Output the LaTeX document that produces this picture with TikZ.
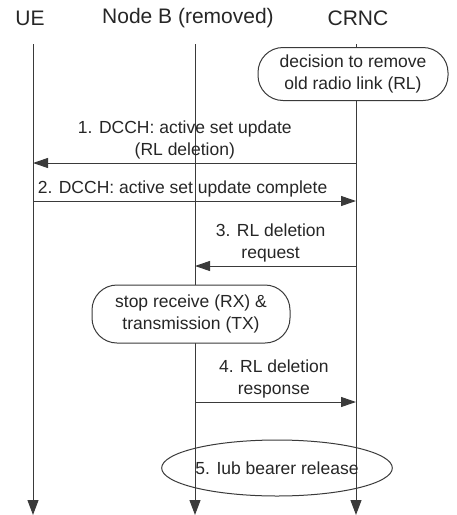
\documentclass[tikz,border=0pt]{standalone}
\usepackage{fontspec}
\setmainfont{Liberation Sans}
\usetikzlibrary{arrows.meta, shapes.geometric}
\definecolor{linegray}{HTML}{3A3A3A}
\tikzset{
    head/.style={font=\fontsize{21}{24}\selectfont, text=black!85, inner sep=0pt},
    box/.style={rectangle, draw=linegray, fill=white, rounded corners=25pt, line width=1pt, align=center, font=\fontsize{17.5}{22}\selectfont, text=black!85, inner sep=0pt},
    oval/.style={ellipse, draw=linegray, line width=1pt, inner sep=0pt, font=\fontsize{17.5}{22}\selectfont, text=black!85},
    life/.style={draw=linegray, line width=1pt, -{Triangle[length=15pt,width=11pt]}},
    msg/.style={draw=linegray, line width=1pt, -{Triangle[length=15pt,width=10pt]}},
    lbl/.style={align=center, font=\fontsize{17.5}{22}\selectfont, text=black!85, inner sep=3pt}
}

\begin{document}
\begin{tikzpicture}[x=1pt, y=-1pt]
    \useasboundingbox (0,0) rectangle (456,515);
    % entities
    \node[head] (ue) at (30,18) {UE};
    \node[head] (nodeb) at (188,18) {Node B (removed)};
    \node[head] (crnc) at (358,18) {CRNC};

    % lifelines
    \coordinate (ueTop) at (33,44);
    \coordinate (ueEnd) at (33,515);
    \coordinate (nbTop) at (195,44);
    \coordinate (nbEnd) at (195,515);
    \coordinate (crTop) at (356,44);
    \coordinate (crEnd) at (356,515);
    \draw[life] (ueTop) -- (ueEnd);
    \draw[life] (nbTop) -- (nbEnd);
    \draw[life] (crTop) -- (crEnd);

    % local actions
    \node[box, minimum width=190pt, minimum height=53pt] (decide) at (353,74) {decision to remove\\old radio link (RL)};
    \node[box, minimum width=198pt, minimum height=58pt] (stop) at (191,314) {stop receive (RX) \&\\transmission (TX)};
    \node[oval, minimum width=189pt, minimum height=56pt] (iub) at (277,468) {5. Iub bearer release};

    % messages
    \coordinate (m1a) at (356,163);
    \coordinate (m1b) at (33,163);
    \coordinate (m2a) at (33,201);
    \coordinate (m2b) at (356,201);
    \coordinate (m3a) at (356,266);
    \coordinate (m3b) at (195,266);
    \coordinate (m4a) at (195,402);
    \coordinate (m4b) at (356,402);

    \draw[msg] (m1a) -- (m1b) node[lbl, pos=.53, above] {1. DCCH: active set update\\(RL deletion)};
    \draw[msg] (m2a) -- (m2b) node[lbl, pos=.463, above] {2. DCCH: active set update complete};
    \draw[msg] (m3a) -- (m3b) node[lbl, pos=.53, above] {3. RL deletion\\request};
    \draw[msg] (m4a) -- (m4b) node[lbl, pos=.49, above] {4. RL deletion\\response};
\end{tikzpicture}
\end{document}
